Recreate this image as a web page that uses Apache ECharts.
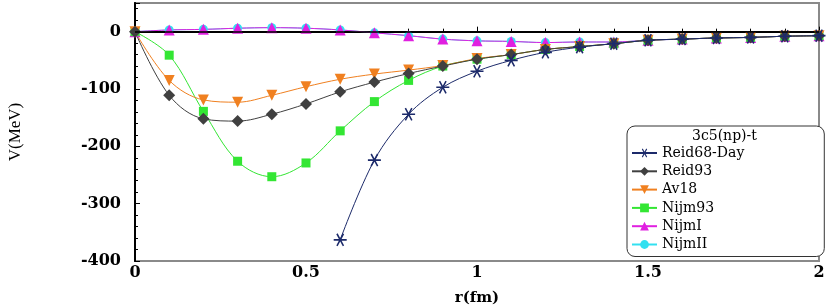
<!DOCTYPE html>
<html>
<head>
<meta charset="utf-8">
<script src="https://cdn.jsdelivr.net/npm/echarts@6/dist/echarts.min.js"></script>
<style>
html,body{margin:0;padding:0;background:#fff;}
#c{width:830px;height:306px;}
</style>
</head>
<body>
<div id="c"></div>
<script>
var r = [0,0.1,0.2,0.3,0.4,0.5,0.6,0.7,0.8,0.9,1.0,1.1,1.2,1.3,1.4,1.5,1.6,1.7,1.8,1.9,2.0];
var reid68 = [null,null,null,null,null,null,-363,-224,-144,-97,-69,-50,-36,-27,-21,-15,-13,-11,-10,-8,-7];
var reid93 = [0,-111,-152,-156,-144,-126,-105,-88,-73,-60,-48,-40,-31,-26,-21,-15,-13,-11,-10,-8,-7];
var av18   = [0,-85,-119,-123,-111,-96,-83,-74,-67,-59,-47,-40,-31,-26,-21,-15,-13,-11,-10,-8,-7];
var nijm93 = [0,-41,-139,-226,-253,-229,-173,-122,-85,-60,-48,-40,-31,-26,-21,-15,-13,-11,-10,-8,-7];
var nijmI  = [0,3,4,6,7,6,3,-2,-7,-13,-16,-17,-19,-18,-18,-15,-13,-11,-10,-8,-7];
var nijmII = [0,3,4,6,7,6,3,-2,-7,-13,-16,-17,-19,-18,-18,-15,-13,-11,-10,-8,-7];
var legendTitle = '3c5(np)-t';
var names = ['Reid68-Day','Reid93','Av18','Nijm93','NijmI','NijmII'];

function pairs(v){ return r.map(function(x,i){ return [x, v[i]]; }); }

var star = 'path://M-10,-1.2L10,-1.2L10,1.2L-10,1.2Z' +
  'M3.96,9.26L-6.04,-8.06L-3.96,-9.26L6.04,8.06Z' +
  'M-6.04,8.06L3.96,-9.26L6.04,-8.06L-3.96,9.26Z';

var serif = 'Liberation Serif';
function mk(name, data, color, symbol, size, extra){
  var s = {
    name: name, type: 'line', data: pairs(data), smooth: 0.35,
    symbol: symbol, symbolSize: size, connectNulls: false,
    lineStyle: {color: color, width: 1},
    itemStyle: {color: color},
    emphasis: {disabled: true}
  };
  for (var k in extra) s[k] = extra[k];
  return s;
}

var chart = echarts.init(document.getElementById('c'));
chart.setOption({
  animation: false,
  backgroundColor: '#fff',
  grid: {left: 135, right: 11, top: 3, bottom: 45, show: true, outerBoundsMode: 'none', containLabel: false,
    borderColor: '#8a8a8a', borderWidth: 2, backgroundColor: 'transparent'},
  xAxis: [{
    type: 'value', min: 0, max: 2, interval: 0.5,
    name: 'r(fm)', nameLocation: 'middle', nameGap: 30,
    nameTextStyle: {fontFamily: 'DejaVu Serif', fontWeight: 'bold', fontSize: 15, color: '#000'},
    axisLine: {lineStyle: {color: '#000', width: 2}},
    axisTick: {inside: true, length: 5, lineStyle: {color: '#000'}},
    minorTick: {show: true, splitNumber: 5, length: 3, lineStyle: {color: '#000'}},
    splitLine: {show: false},
    axisLabel: {margin: 4, fontFamily: 'DejaVu Serif', fontWeight: 'bold', fontSize: 16, color: '#000'}
  }],
  yAxis: [{
    type: 'value', min: -400, max: 50, interval: 100,
    name: 'V(MeV)', nameLocation: 'middle', nameGap: 111, nameRotate: 90,
    nameTextStyle: {fontFamily: serif, fontSize: 17, color: '#000'},
    axisLine: {onZero: false, lineStyle: {color: '#000', width: 2}},
    axisTick: {inside: true, length: 5, lineStyle: {color: '#000'}},
    minorTick: {show: true, splitNumber: 5, length: 3, lineStyle: {color: '#000'}},
    splitLine: {show: false},
    axisLabel: {margin: 14, showMaxLabel: false, fontFamily: 'DejaVu Serif', fontWeight: 'bold', fontSize: 16, color: '#000'}
  },{
    type: 'value', min: -400, max: 50, position: 'right',
    axisLine: {show: true, lineStyle: {color: '#000', width: 1.5}},
    axisTick: {show: false}, axisLabel: {show: false}, splitLine: {show: false}
  }],
  legend: {
    data: names, orient: 'vertical', left: 627, top: 126,
    padding: [20, 80, 5, 4], itemGap: 4.3, itemWidth: 25, itemHeight: 11,
    borderColor: '#333', borderWidth: 1, borderRadius: 8, backgroundColor: '#fff',
    textStyle: {fontFamily: 'DejaVu Serif', fontSize: 14, color: '#000'}
  },
  graphic: [{
    type: 'text', left: 692, top: 129, z: 100,
    style: {text: legendTitle, font: '14px "DejaVu Serif"', fill: '#000'}
  }],
  series: [
    mk('NijmII', nijmII, '#33e0f0', 'circle', 9, {
      markLine: {silent: true, symbol: 'none', label: {show: false},
        lineStyle: {color: '#000', width: 1.5, type: 'solid'}, data: [{yAxis: 0}]}
    }),
    mk('NijmI', nijmI, '#e020e0', 'triangle', 11, {}),
    mk('Nijm93', nijm93, '#33e633', 'rect', 9, {}),
    mk('Av18', av18, '#f08020', 'path://M0,10L-10,-8L10,-8Z', 11, {}),
    mk('Reid93', reid93, '#404040', 'diamond', 12, {}),
    mk('Reid68-Day', reid68, '#1c2a6a', star, 13, {})
  ]
});
</script>
</body>
</html>
